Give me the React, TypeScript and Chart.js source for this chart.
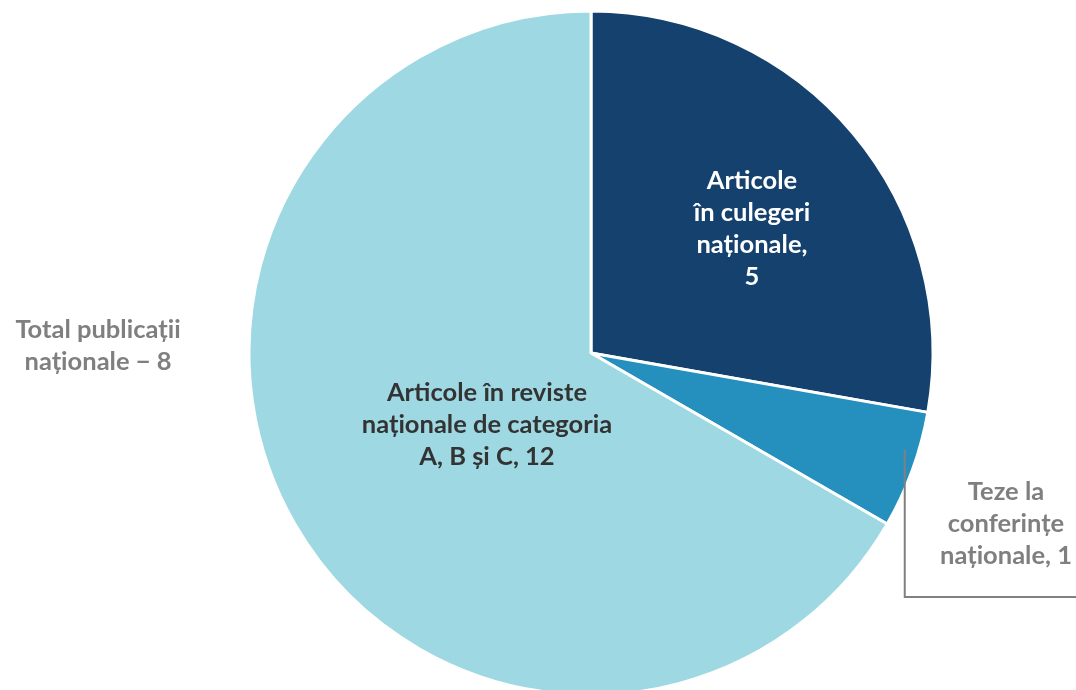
import React, { useEffect, useRef } from "react";
import { Chart, registerables } from "chart.js";

Chart.register(...registerables);

const categories = [
  ["Articole", "în culegeri", "naționale,", "5"],
  ["Teze la", "conferințe", "naționale, 1"],
  ["Articole în reviste", "naționale de categoria", "A, B și C, 12"],
];
const values = [5, 1, 12];
const colors = ["#15416F", "#2590BE", "#9ED8E2"];
const totalLabel = ["Total publicații", "naționale − 8"];

const FONT = "bold 25.5px Lato, 'Open Sans', sans-serif";
const LINE_H = 32;

const labelPlugin = {
  id: "pieLabels",
  afterDatasetsDraw(chart: any) {
    const ctx = chart.ctx as CanvasRenderingContext2D;
    const meta = chart.getDatasetMeta(0);
    ctx.save();
    ctx.font = FONT;
    ctx.textAlign = "center";
    ctx.textBaseline = "middle";
    const drawLines = (lines: string[], x: number, y: number, color: string) => {
      ctx.fillStyle = color;
      const y0 = y - ((lines.length - 1) * LINE_H) / 2;
      lines.forEach((l, i) => ctx.fillText(l, x, y0 + i * LINE_H));
    };
    meta.data.forEach((arc: any, i: number) => {
      const { x, y, startAngle, endAngle, outerRadius } = arc.getProps(
        ["x", "y", "startAngle", "endAngle", "outerRadius"],
        true
      );
      const mid = (startAngle + endAngle) / 2;
      if (i === 0) {
        const a = mid + 0.042;
        const r = outerRadius * 0.594;
        drawLines(categories[0], x + Math.cos(a) * r, y + Math.sin(a) * r, "#FFFFFF");
      } else if (i === 2) {
        const a = mid - 0.082;
        const r = outerRadius * 0.37;
        drawLines(categories[2], x + Math.cos(a) * r, y + Math.sin(a) * r, "#333333");
      } else if (i === 1) {
        const a = mid - 0.05;
        const r = outerRadius * 0.96;
        const sx = x + Math.cos(a) * r;
        const sy = y + Math.sin(a) * r;
        ctx.strokeStyle = "#808080";
        ctx.lineWidth = 2;
        ctx.beginPath();
        ctx.moveTo(sx, sy);
        ctx.lineTo(sx, 597);
        ctx.lineTo(chart.width, 597);
        ctx.stroke();
        drawLines(categories[1], 1006, 524, "#7F7F7F");
      }
    });
    drawLines(totalLabel, 98, 346, "#7F7F7F");
    ctx.restore();
  },
};

export default function App() {
  const ref = useRef<HTMLCanvasElement | null>(null);
  useEffect(() => {
    if (!ref.current) return;
    const chart = new Chart(ref.current, {
      type: "pie",
      data: {
        labels: categories.map((c) => c.join(" ")),
        datasets: [
          {
            data: values,
            backgroundColor: colors,
            borderColor: "#FFFFFF",
            borderWidth: 3,
            radius: 342,
            clip: false,
          } as any,
        ],
      },
      options: {
        animation: false,
        responsive: false,
        layout: { padding: { left: 106, right: 0, top: 16, bottom: 0 } },
        plugins: {
          legend: { display: false },
          tooltip: { enabled: false },
        },
      },
      plugins: [labelPlugin],
    });
    return () => chart.destroy();
  }, []);
  return (
    <div style={{ position: "fixed", left: 0, top: 0, width: 1076, height: 690, background: "#FFFFFF" }}>
      <canvas ref={ref} width={1076} height={690} style={{ width: 1076, height: 690, display: "block" }} />
    </div>
  );
}
